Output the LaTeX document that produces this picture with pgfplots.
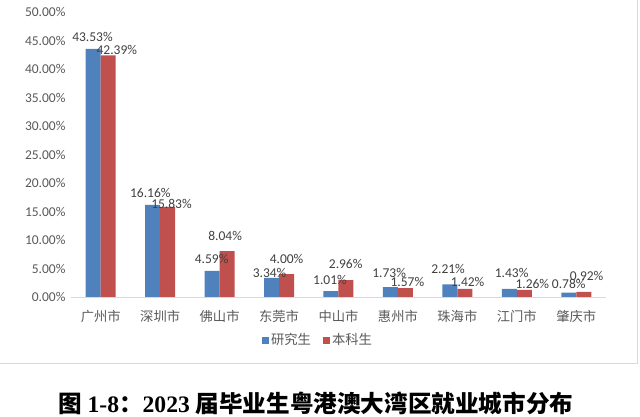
\documentclass[border=0pt]{standalone}
\usepackage{pgfplots}
\usepackage{pgfplotstable}
\pgfplotsset{compat=1.18}
\usepackage{fontspec}
\setmainfont{Carlito}
\newfontfamily\cjk{Noto Sans CJK SC}
\newfontfamily\tnr{Liberation Serif}
\definecolor{barblue}{HTML}{4F81BD}
\definecolor{barred}{HTML}{C0504D}
\definecolor{ticktxt}{HTML}{595959}
\definecolor{lbltxt}{HTML}{404040}
\definecolor{axgray}{HTML}{D9D9D9}

\pgfplotstableread{
x y dx dy
0 43.53 -0.7 11.7
1 16.16 -2.3 12
2 4.59 -0.5 11.7
3 3.34 -2 5.4
4 1.01 -1 11.7
5 1.73 -1.3 14.4
6 2.21 -1.8 15
7 1.43 2.3 15.5
8 0.78 0 8.6
}\grad
\pgfplotstableread{
x y dx dy
0 42.39 8.6 5.7
1 15.83 3.8 2.4
2 8.04 -2 15.5
3 4.00 0 15
4 2.96 -0.3 16
5 1.57 2 6.3
6 1.42 2.7 7.2
7 1.26 8 5.5
8 0.92 2.8 15.8
}\under

\begin{document}
\begin{tikzpicture}
\path[use as bounding box] (0,0) rectangle (640pt,417pt);
\draw[axgray, line width=0.8pt] (-2pt,54pt) -- (637pt,54pt) -- (637pt,420pt);
\begin{axis}[
  at={(71pt,120pt)}, anchor=south west,
  scale only axis, width=535pt, height=285pt,
  ybar=0pt, bar width=15pt,
  xmin=-0.5, xmax=8.5, ymin=0, ymax=50,
  xtick={0,...,8},
  xticklabels={广州市,深圳市,佛山市,东莞市,中山市,惠州市,珠海市,江门市,肇庆市},
  ytick={0,5,...,50},
  /pgf/number format/assume math mode=true,
  yticklabel={\pgfmathprintnumber[fixed,fixed zerofill,precision=2]{\tick}\%},
  yticklabel style={font=\fontsize{13.5}{14}\selectfont, text=ticktxt, xshift=-2pt},
  xticklabel style={font=\cjk\fontsize{13.3}{14}\selectfont, text=ticktxt, yshift=-5pt},
  axis x line*=bottom, axis y line*=left,
  x axis line style={-, draw=axgray, line width=0.8pt},
  y axis line style={draw=none},
  tick style={draw=none},
  nodes near coords={\pgfmathprintnumber[fixed,fixed zerofill,precision=2]{\pgfplotspointmeta}\%},
  visualization depends on={\thisrow{dx} \as \dxv},
  visualization depends on={\thisrow{dy} \as \dyv},
  nodes near coords style={font=\fontsize{13.5}{14}\selectfont, text=lbltxt, anchor=center, xshift=\dxv pt, yshift=\dyv pt},
  legend style={at={(0.4617,-0.151)}, anchor=center, draw=none, legend columns=2,
    font=\cjk\fontsize{13.3}{14}\selectfont, text=ticktxt,
    /tikz/every even column/.append style={column sep=10pt}},
  legend image code/.code={\fill[#1] (0pt,-3.5pt) rectangle (7pt,3.5pt);},
]
\addplot[fill=barblue, draw=none] table[x=x,y=y] {\grad};
\addplot[fill=barred, draw=none] table[x=x,y=y] {\under};
\legend{研究生,本科生}
\end{axis}
\node[anchor=center, font=\fontsize{23.6}{26}\selectfont] at (316pt,14pt)
  {{\cjk\bfseries 图 }{\tnr\bfseries 1-8}{\cjk\bfseries ：}{\tnr\bfseries 2023 }{\cjk\bfseries 届毕业生粤港澳大湾区就业城市分布}};
\end{tikzpicture}
\end{document}
